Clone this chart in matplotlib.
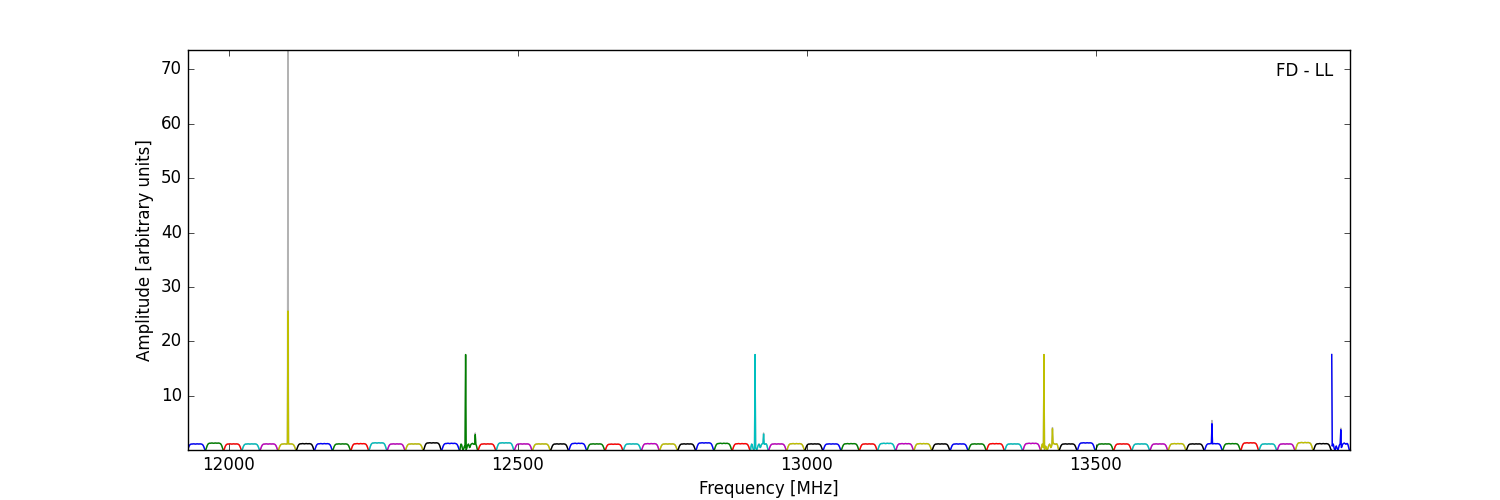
import numpy as np
import matplotlib
matplotlib.use('Agg')
import matplotlib.pyplot as plt

plt.style.use('classic')

# subband layout
band_start = 11928.5
band_width = 31.42
band_colors = ['b', 'g', 'r', 'c', 'm', 'y', 'k']

# peak level of each of the 64 subbands
band_levels = [1.20, 1.35, 1.20, 1.20, 1.20, 1.20, 1.25, 1.25, 1.20, 1.25,
               1.40, 1.20, 1.20, 1.40, 1.30, 1.30, 1.20, 1.40, 1.20, 1.20,
               1.20, 1.30, 1.20, 1.15, 1.20, 1.25, 1.20, 1.20, 1.40, 1.30,
               1.25, 1.30, 1.20, 1.25, 1.20, 1.20, 1.25, 1.20, 1.30, 1.25,
               1.25, 1.20, 1.20, 1.20, 1.25, 1.20, 1.30, 1.30, 1.20, 1.40,
               1.20, 1.20, 1.20, 1.20, 1.25, 1.20, 1.25, 1.25, 1.40, 1.20,
               1.20, 1.45, 1.25, 1.35]

# bandpass shape across one subband (32 channels)
bandpass = [0.08, 0.25, 0.50, 0.70, 0.84, 0.92, 0.96, 0.98, 0.97, 0.99,
            1.00, 1.01, 1.00, 0.98, 0.97, 0.98, 1.00, 1.01, 1.00, 0.99,
            0.98, 0.99, 1.00, 1.00, 0.98, 0.96, 0.92, 0.84, 0.70, 0.50,
            0.25, 0.08]

# distorted bandpass in subbands hit by RFI
bandpass_rfi = [0.08, 0.60, 0.90, 0.80, 0.40, 0.15, 0.10, 0.35, 0.60, 0.40,
                0.20, 0.10, 0.30, 0.60, 0.80, 0.90, 0.70, 0.40, 0.50, 0.80,
                0.90, 0.95, 1.00, 0.95, 0.90, 0.85, 0.90, 0.95, 0.90, 0.70,
                0.35, 0.08]
rfi_bands = [15, 31, 47, 63]

# narrow spikes: frequency, height in the subband trace, height in the grey trace
spike_freqs = [12102.0, 12410.0, 12426.0, 12910.0, 12925.5, 13410.0, 13425.0,
               13700.7, 13908.0, 13924.0]
spike_heights = [25.6, 17.6, 2.9, 17.6, 3.0, 17.6, 4.0, 4.9, 17.6, 3.8]
spike_heights_grey = [73.5, 17.6, 3.2, 17.6, 3.2, 17.6, 4.2, 5.5, 17.6, 4.1]

fig = plt.figure(figsize=(15, 5))
ax = fig.add_subplot(111)

for i, level in enumerate(band_levels):
    shape = bandpass_rfi if i in rfi_bands else bandpass
    nchan = len(shape)
    chan = band_width / nchan
    f0 = band_start + i * band_width
    freq = f0 + np.arange(nchan) * chan
    amp = level * np.array(shape)
    amp_grey = amp.copy()
    for sf, sh, sg in zip(spike_freqs, spike_heights, spike_heights_grey):
        if f0 <= sf < f0 + band_width:
            j = min(int(round((sf - f0) / chan)), nchan - 1)
            amp[j] = sh
            amp_grey[j] = sg
    ax.plot(freq, amp_grey, color='0.7', zorder=1)
    ax.plot(freq, amp, color=band_colors[i % 7], zorder=2)

ax.set_xlim(11928.5, 13939.6)
ax.set_ylim(0.08, 73.5)
ax.set_xlabel("Frequency [MHz]")
ax.set_ylabel("Amplitude [arbitrary units]")
ax.text(0.986, 0.947, "FD - LL", transform=ax.transAxes, ha='right', va='center')

fig.savefig("out.png", dpi=100, facecolor='white')
